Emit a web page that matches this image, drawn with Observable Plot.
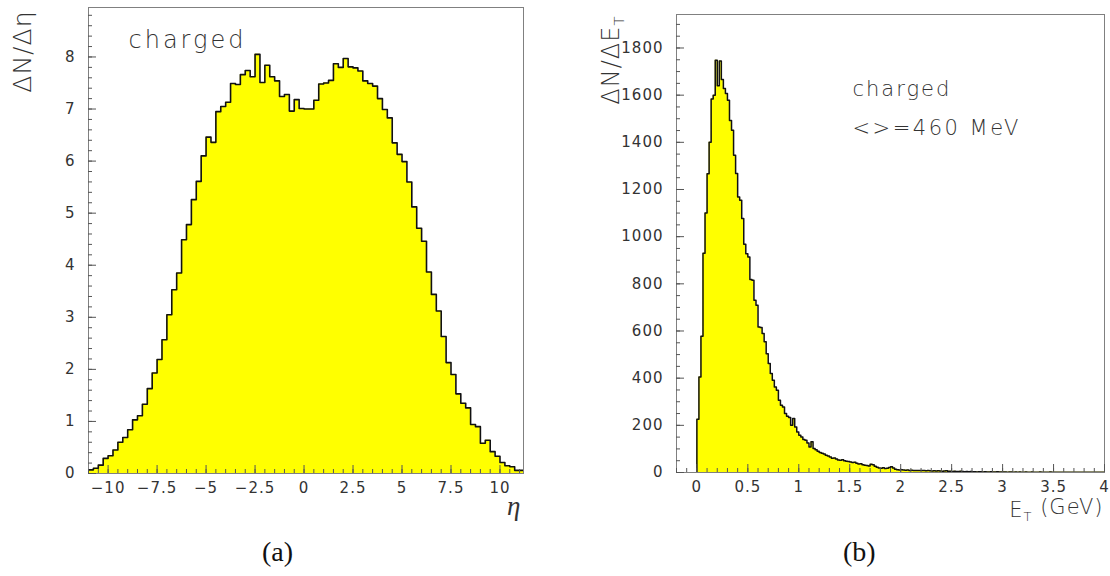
<!DOCTYPE html>
<html><head><meta charset="utf-8">
<script src="https://cdn.jsdelivr.net/npm/d3@7"></script>
<script src="https://cdn.jsdelivr.net/npm/@observablehq/plot@0.6"></script>
<style>
body{margin:0;background:#fff;}
#wrap{position:relative;width:1110px;height:576px;overflow:hidden;background:#fff;}
.panel{position:absolute;top:0;}
.cap{position:absolute;font-family:"Liberation Serif","DejaVu Serif",serif;font-size:28px;color:#111;line-height:1;}
</style></head><body><div id="wrap"></div>
<script>
// ---- (a) pseudorapidity distribution, bins of 0.25 starting at -11 ----
const etaStart = -11;
const etaWidth = 0.25;
const etaValues = [
  0.07, 0.10, 0.16, 0.29, 0.34, 0.45, 0.60, 0.69, 0.84, 1.03,
  1.11, 1.33, 1.63, 1.93, 2.19, 2.57, 3.05, 3.53, 3.85, 4.49,
  4.78, 5.26, 5.61, 6.10, 6.46, 6.36, 6.95, 7.05, 7.13, 7.49,
  7.47, 7.66, 7.74, 7.62, 8.05, 7.51, 7.84, 7.62, 7.54, 7.24,
  7.28, 6.96, 7.18, 7.01, 7.00, 7.00, 7.17, 7.48, 7.50, 7.55,
  7.87, 7.80, 7.97, 7.81, 7.79, 7.73, 7.54, 7.49, 7.44, 7.20,
  6.99, 6.83, 6.35, 6.13, 5.99, 5.60, 5.12, 4.71, 4.46, 3.87,
  3.44, 3.12, 2.63, 2.13, 1.90, 1.53, 1.35, 1.26, 0.94, 0.90,
  0.58, 0.64, 0.42, 0.33, 0.21, 0.15, 0.13, 0.06, 0.06
];
const etaXTicks = [-10, -7.5, -5, -2.5, 0, 2.5, 5, 7.5, 10];
const etaXTickLabels = ["\u221210", "\u22127.5", "\u22125", "\u22122.5", "0", "2.5", "5", "7.5", "10"];
const etaYTicks = [0, 1, 2, 3, 4, 5, 6, 7, 8];

// ---- (b) transverse energy distribution, bins of 0.02 GeV starting at 0 ----
const etStart = 0;
const etWidth = 0.02;
const etValues = [
  226, 405, 578, 930, 1100, 1267, 1400, 1584, 1600, 1748,
  1640, 1745, 1666, 1628, 1607, 1578, 1493, 1451, 1345, 1268,
  1168, 1154, 1077, 968, 928, 914, 818, 815, 730, 709,
  617, 615, 589, 554, 504, 462, 420, 391, 363, 349,
  306, 285, 278, 250, 239, 233, 200, 229, 193, 172,
  158, 150, 140, 137, 125, 108, 130, 102, 96, 90,
  85, 82, 78, 73, 70, 66, 60, 61, 57, 53,
  52, 54, 50, 48, 47, 44, 42, 43, 39, 36,
  37, 33, 31, 30, 28, 35, 33, 26, 22, 19,
  18, 20, 17, 18, 21, 24, 19, 14, 12, 11,
  12, 11, 10, 11, 9, 10, 9, 8, 9, 8,
  8, 9, 7, 8, 7, 6, 7, 6, 7, 6,
  5, 6, 7, 5, 5, 4, 5, 4, 4, 5,
  4, 3, 4, 3, 4, 3, 3, 2, 3, 3,
  2, 3, 2, 2, 3, 2, 2, 3, 2, 2,
  2, 2, 1, 2, 2, 1, 2, 1, 2, 1,
  1, 2, 1, 1, 2, 1, 1, 1, 2, 1,
  1, 1, 1, 2, 1, 1, 1, 1, 1, 1,
  1, 1, 1, 1, 1, 1, 1, 1, 1, 1,
  1, 1, 1, 1, 1, 1, 1, 1, 1, 1
];
const etXTicks = [0, 0.5, 1, 1.5, 2, 2.5, 3, 3.5, 4];
const etXTickLabels = ["0", "0.5", "1", "1.5", "2", "2.5", "3", "3.5", "4"];
const etYTicks = [0, 200, 400, 600, 800, 1000, 1200, 1400, 1600, 1800];

const FILL = "#ffff00";
const INK = "#111";
const AXC = "#555";
const TXT = "#333";
const SANS = "DejaVu Sans, Liberation Sans, sans-serif";

// step outline points built from the bins
function stepPoints(start, width, values, fromBaseline) {
  const pts = [];
  if (fromBaseline) pts.push({x: start, y: 0});
  values.forEach((v, i) => pts.push({x: start + i * width, y: v}));
  pts.push({x: start + values.length * width, y: values[values.length - 1]});
  return pts;
}
const etaPts = stepPoints(etaStart, etaWidth, etaValues, false);
const etPts = stepPoints(etStart, etWidth, etValues, true);

function subscriptize(svg, raw, main, sub, after) {
  d3.select(svg).selectAll("text").each(function() {
    if (this.textContent === raw) {
      this.textContent = "";
      const t = d3.select(this);
      t.append("tspan").text(main);
      t.append("tspan").attr("dy", "0.32em").attr("font-size", "62%").text(sub);
      if (after) t.append("tspan").attr("dy", "-0.32em").text(after);
    }
  });
}
function spaceText(svg, content, spacing) {
  d3.select(svg).selectAll("text").each(function() {
    if (this.textContent === content) this.style.letterSpacing = spacing;
  });
}

const left = Plot.plot({
  width: 540, height: 530,
  marginLeft: 88, marginRight: 17, marginTop: 7, marginBottom: 57,
  x: {domain: [-11, 11.2]},
  y: {domain: [0, 8.95]},
  style: {fontFamily: SANS, background: "transparent"},
  marks: [
    Plot.areaY(etaPts, {x: "x", y: "y", curve: "step-after", fill: FILL, clip: true}),
    Plot.lineY(etaPts, {x: "x", y: "y", curve: "step-after", stroke: INK, strokeWidth: 1.6, clip: true}),
    Plot.frame({stroke: "#808080"}),
    Plot.axisY({ticks: d3.range(0, 8.9, 0.2), tickSize: -4, tickFormat: () => "", stroke: AXC, label: null}),
    Plot.axisY({ticks: etaYTicks, tickSize: -8, tickPadding: 21, tickFormat: d => String(d), stroke: AXC, fill: TXT, fontSize: 15, label: null}),
    Plot.axisX({ticks: d3.range(-11, 11.2, 0.5), tickSize: -4, tickFormat: () => "", stroke: AXC, label: null}),
    Plot.axisX({ticks: etaXTicks, tickSize: -8, tickPadding: 17, tickFormat: (d, i) => etaXTickLabels[i], stroke: AXC, fill: TXT, fontSize: 15, label: null}),
    Plot.text(["charged"], {frameAnchor: "top-left", dx: 40, dy: 40, textAnchor: "start", lineAnchor: "bottom", fontSize: 24, fill: TXT, fontWeight: 200}),
    Plot.text(["\u0394N/\u0394\u03b7"], {frameAnchor: "top-left", dx: -66, dy: 3, rotate: -90, textAnchor: "end", lineAnchor: "middle", fontSize: 25, fill: TXT, fontWeight: 200}),
    Plot.text(["\u03b7"], {frameAnchor: "bottom-right", dx: -2, dy: 41, textAnchor: "end", lineAnchor: "bottom", fontSize: 27, fill: TXT, fontStyle: "italic", fontFamily: "Liberation Serif, DejaVu Serif, serif"})
  ]
});

const right = Plot.plot({
  width: 530, height: 530,
  marginLeft: 96, marginRight: 6, marginTop: 14, marginBottom: 58,
  x: {domain: [-0.2, 4]},
  y: {domain: [0, 1942]},
  style: {fontFamily: SANS, background: "transparent"},
  marks: [
    Plot.areaY(etPts, {x: "x", y: "y", curve: "step-after", fill: FILL, clip: true}),
    Plot.lineY(etPts, {x: "x", y: "y", curve: "step-after", stroke: INK, strokeWidth: 1.5, clip: true}),
    Plot.frame({stroke: "#808080"}),
    Plot.axisY({ticks: d3.range(0, 1941, 50), tickSize: -4, tickFormat: () => "", stroke: AXC, label: null}),
    Plot.axisY({ticks: etYTicks, tickSize: -8, tickPadding: 21, tickFormat: d => String(d), stroke: AXC, fill: TXT, fontSize: 15, label: null}),
    Plot.axisX({ticks: d3.range(-0.2, 4.01, 0.1), tickSize: -4, tickFormat: () => "", stroke: AXC, label: null}),
    Plot.axisX({ticks: etXTicks, tickSize: -8, tickPadding: 17, tickFormat: (d, i) => etXTickLabels[i], stroke: AXC, fill: TXT, fontSize: 15, label: null}),
    Plot.text(["charged"], {frameAnchor: "top-left", dx: 176, dy: 81, textAnchor: "start", lineAnchor: "bottom", fontSize: 21, fill: TXT, fontWeight: 200}),
    Plot.text(["<>=460 MeV"], {frameAnchor: "top-left", dx: 176, dy: 120, textAnchor: "start", lineAnchor: "bottom", fontSize: 21, fill: TXT, fontWeight: 200}),
    Plot.text(["\u0394N/\u0394E_T"], {frameAnchor: "top-left", dx: -65, dy: 1, rotate: -90, textAnchor: "end", lineAnchor: "middle", fontSize: 24, fill: TXT, fontWeight: 200}),
    Plot.text(["E_T (GeV)"], {frameAnchor: "bottom-right", dx: -1, dy: 44, textAnchor: "end", lineAnchor: "bottom", fontSize: 21, fill: TXT, fontWeight: 200})
  ]
});

[left, right].forEach(svg => {
  d3.select(svg).selectAll("text").style("letter-spacing", "1px");
});
spaceText(left, "charged", "3px");
spaceText(right, "charged", "2px");
spaceText(right, "<>=460 MeV", "2.5px");
subscriptize(right, "\u0394N/\u0394E_T", "\u0394N/\u0394E", "T", null);
subscriptize(right, "E_T (GeV)", "E", "T", " (GeV)");

const wrap = document.getElementById("wrap");
left.classList.add("panel");
left.style.left = "0px";
right.classList.add("panel");
right.style.left = "580px";
wrap.appendChild(left);
wrap.appendChild(right);

const capA = document.createElement("div");
capA.className = "cap"; capA.textContent = "(a)";
capA.style.left = "262px"; capA.style.top = "538px";
const capB = document.createElement("div");
capB.className = "cap"; capB.textContent = "(b)";
capB.style.left = "843px"; capB.style.top = "538px";
wrap.appendChild(capA); wrap.appendChild(capB);
</script></body></html>
